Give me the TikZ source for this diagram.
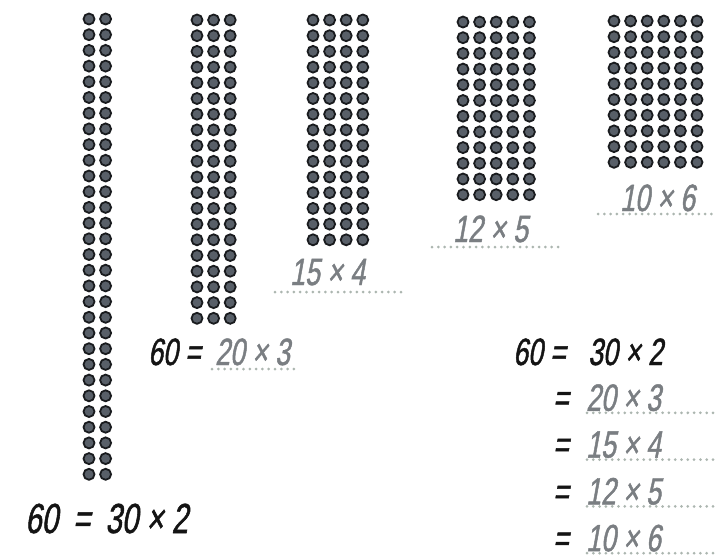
\documentclass[tikz,border=0pt]{standalone}
\usepackage{fontspec}
\newfontfamily\handfont[FakeSlant=0.18,FakeStretch=0.7,FakeBold=1.2]{Liberation Sans}
\definecolor{dotfill}{RGB}{88,95,104}
\definecolor{dotrim}{RGB}{25,27,30}
\definecolor{rulegray}{RGB}{172,182,176}
\definecolor{answergray}{RGB}{122,126,130}
\usetikzlibrary{positioning}

% one block of counters: x0, y0, columns, rows
\newcommand{\dotarray}[4]{%
  \foreach \c in {1,...,#3}{
    \foreach \r in {1,...,#4}{
      \draw[counter] ({#1+(\c-1)*16.6},{#2+(\r-1)*15.7}) circle[radius=5.5pt];
    }
  }%
}

\begin{document}
\begin{tikzpicture}[x=1pt, y=-1pt,
    counter/.style={fill=dotfill, draw=dotrim, line width=1.8pt},
    sum/.style={anchor=base west, inner sep=0pt, text=black!92,
        font=\fontsize{38}{40}\selectfont\handfont},
    bigsum/.style={sum, font=\fontsize{42}{44}\selectfont\handfont},
    answer/.style={sum, text=answergray},
    dotrule/.style={draw=rulegray, line width=3pt, line cap=round,
        dash pattern=on 0pt off 6.3pt}
  ]
  \useasboundingbox (0,0) rectangle (715,555);

  % arrays
  \dotarray{89}{19}{2}{30}
  \dotarray{197}{20}{3}{20}
  \dotarray{313}{20}{4}{15}
  \dotarray{463}{22}{5}{12}
  \dotarray{614}{21}{6}{10}

  % labels under the arrays
  \node[bigsum] (sumA) at (25,533) {60 \,=\, 30 × 2};

  \node[sum]    (sumB) at (148,365) {60 =};
  \node[answer] (ansB) at (215,365) {20 × 3};
  \draw[dotrule] (212,369) -- (300,369);

  \node[answer] (ansC) at (290,285) {15 × 4};
  \draw[dotrule] (275,292) -- (407,292);

  \node[answer] (ansD) at (453,242) {12 × 5};
  \draw[dotrule] (432,247) -- (563,247);

  \node[answer] (ansE) at (620,211) {10 × 6};
  \draw[dotrule] (598,214) -- (715,214);

  % list on the right
  \node[sum] (sumR) at (513,365) {60 =};
  \node[sum] (prodR) at (588,365) {30 × 2};
  \foreach \prod [count=\i] in {20 × 3, 15 × 4, 12 × 5, 10 × 6}{
    \node[sum]    (eq\i)  at (553,{364+\i*46.8}) {=};
    \node[answer] (ans\i) at (586,{364+\i*46.8}) {\prod};
    \draw[dotrule] (587,{366+\i*46.8}) -- (715,{366+\i*46.8});
  }
\end{tikzpicture}
\end{document}
